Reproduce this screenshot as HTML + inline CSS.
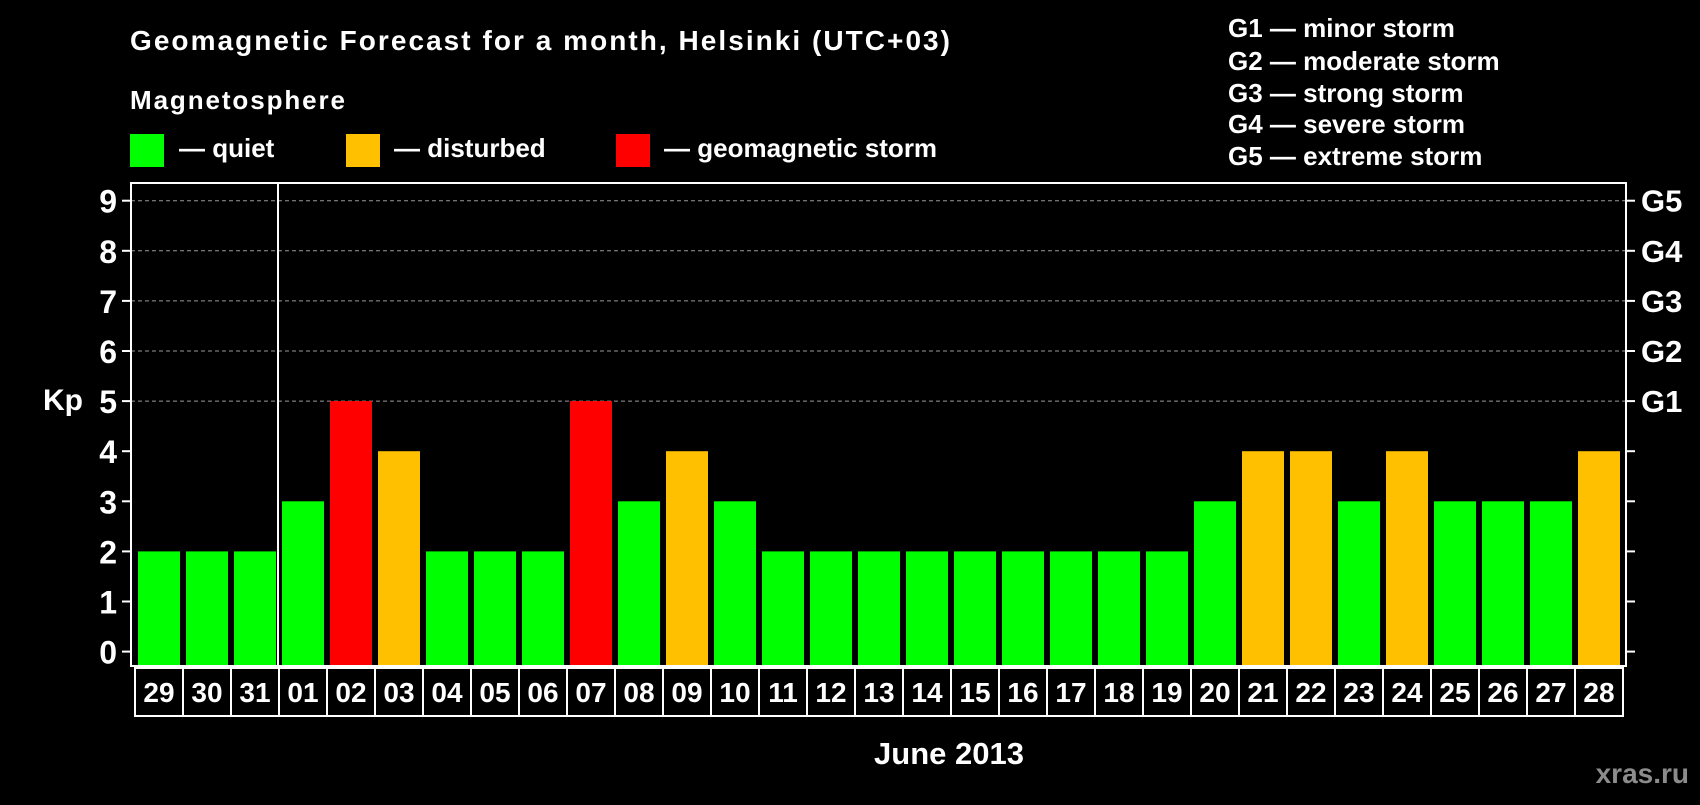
<!DOCTYPE html>
<html><head><meta charset="utf-8"><style>
html,body{margin:0;padding:0;background:#000;}
body{width:1700px;height:800px;overflow:hidden;font-family:"Liberation Sans",Arial,sans-serif;font-weight:bold;color:#fff;}
svg text{font-family:"Liberation Sans",Arial,sans-serif;font-weight:bold;}
</style></head><body>
<svg width="1700" height="800" xmlns="http://www.w3.org/2000/svg">
<text x="130" y="50" font-size="28" fill="#fff" textLength="820">Geomagnetic Forecast for a month, Helsinki (UTC+03)</text>
<text x="130" y="109" font-size="26" fill="#fff" textLength="215">Magnetosphere</text>
<g><rect x="130" y="134" width="34" height="33" fill="#00ff00"/><text x="179" y="157" font-size="26" fill="#fff">— quiet</text></g>
<g><rect x="346" y="134" width="34" height="33" fill="#ffc000"/><text x="394" y="157" font-size="26" fill="#fff">— disturbed</text></g>
<g><rect x="616" y="134" width="34" height="33" fill="#ff0000"/><text x="664" y="157" font-size="26" fill="#fff">— geomagnetic storm</text></g>
<g font-size="26" fill="#fff">
<text x="1228" y="37">G1 — minor storm</text>
<text x="1228" y="70">G2 — moderate storm</text>
<text x="1228" y="102">G3 — strong storm</text>
<text x="1228" y="133">G4 — severe storm</text>
<text x="1228" y="165">G5 — extreme storm</text>
</g>
<text x="43" y="410" font-size="30" fill="#fff">Kp</text>
<g id="plot"></g>
<text x="949" y="764" font-size="31" fill="#fff" text-anchor="middle">June 2013</text>
<text x="1689" y="783" font-size="28" fill="#8c8c8c" text-anchor="end">xras.ru</text>
</svg>
<script>
const days=["29","30","31","01","02","03","04","05","06","07","08","09","10","11","12","13","14","15","16","17","18","19","20","21","22","23","24","25","26","27","28"];
const kp=[2,2,2,3,5,4,2,2,2,5,3,4,3,2,2,2,2,2,2,2,2,2,3,4,4,3,4,3,3,3,4];
const yTicks=[0,1,2,3,4,5,6,7,8,9];
const gLabels=["G1","G2","G3","G4","G5"];
const NS="http://www.w3.org/2000/svg";
const g=document.getElementById('plot');
const L=131,R=1626,T=183,B=666,Y0=651.6,U=50.1;
const y=v=>Y0-v*U;
const x0=v=>135+v*48;
function mk(t,a,p){const e=document.createElementNS(NS,t);for(const k in a)e.setAttribute(k,a[k]);(p||g).appendChild(e);return e;}
yTicks.forEach(v=>{
 if(v>=5){const l=mk('line',{x1:L,x2:R,y1:y(v),y2:y(v),stroke:'#999','stroke-dasharray':'4,3','stroke-width':1});
 
 }
 mk('line',{x1:122,x2:L,y1:y(v),y2:y(v),stroke:'#fff','stroke-width':2});
 mk('line',{x1:R,x2:1635,y1:y(v),y2:y(v),stroke:'#fff','stroke-width':2});
 const t=mk('text',{x:117,y:y(v)+12,'font-size':32,fill:'#fff','text-anchor':'end'});t.textContent=v;
 
 
});
gLabels.forEach((s,i)=>{const t=mk('text',{x:1641,y:y(5+i)+11,'font-size':31,fill:'#fff'});t.textContent=s;
 
 });
kp.forEach((v,i)=>{
 const c=v>=5?'#ff0000':(v>=4?'#ffc000':'#00ff00');
 const r=mk('rect',{x:x0(i)+3,y:y(v),width:42,height:B-1-y(v),fill:c});
 
 
 const b=mk('rect',{x:x0(i),y:B+2,width:48,height:48,fill:'none',stroke:'#fff','stroke-width':2});
 
 
 const t=mk('text',{x:x0(i)+24,y:B+36,'font-size':28,fill:'#fff','text-anchor':'middle'});t.textContent=days[i];
 
 
});
const f=mk('rect',{x:L,y:T,width:R-L,height:B-T,fill:'none',stroke:'#fff','stroke-width':2});


const sep=mk('line',{x1:x0(3)-1,x2:x0(3)-1,y1:T,y2:B,stroke:'#fff','stroke-width':2});


</script>
</body></html>
